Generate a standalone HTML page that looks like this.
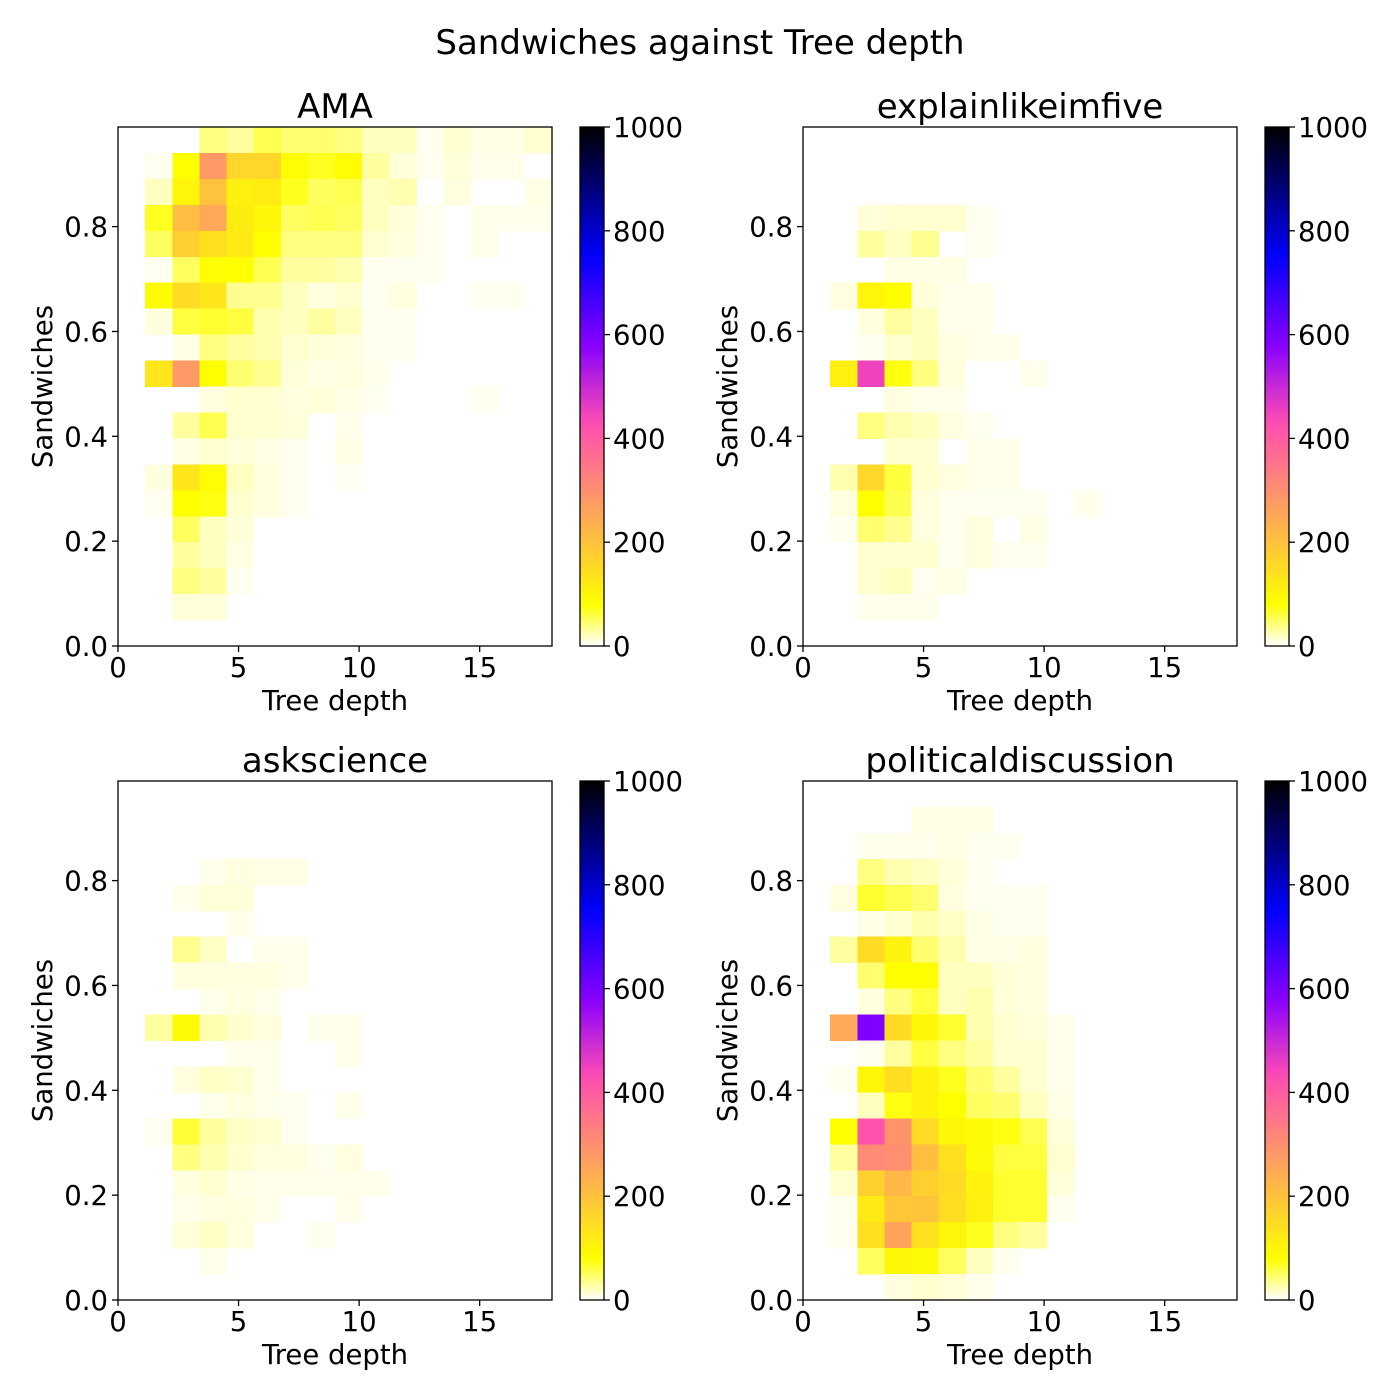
<!DOCTYPE html>
<html><head><meta charset="utf-8"><style>
body{margin:0;background:#fff}
svg{display:block;font-family:"DejaVu Sans","Liberation Sans",sans-serif}
</style></head><body>
<svg id="fig" width="1400" height="1400" viewBox="0 0 1400 1400">
<rect width="1400" height="1400" fill="#fff"/>
<defs id="defs"></defs>
<text x="700" y="54" font-size="34" text-anchor="middle">Sandwiches against Tree depth</text>
</svg>
<script>
const xBinCount = 16, yBinCount = 20;
const xMax = 18, yMax = 0.99;
const vMax = 1000;
const xTicks = [0, 5, 10, 15];
const yTicks = [0.0, 0.2, 0.4, 0.6, 0.8];
const yTickLabels = ["0.0", "0.2", "0.4", "0.6", "0.8"];
const cbTicks = [0, 200, 400, 600, 800, 1000];
const panelTitles = ["AMA", "explainlikeimfive", "askscience", "politicaldiscussion"];

const amaCounts = [
[0,0,0,40,30,55,45,45,40,20,20,5,15,8,8,15],
[0,5,80,280,160,160,85,70,85,30,12,5,12,6,6,0],
[0,20,100,200,110,115,70,50,55,20,25,0,10,0,0,8],
[0,70,210,250,115,95,50,55,50,20,12,5,0,6,6,6],
[0,50,175,140,120,80,40,40,40,15,10,5,0,6,0,0],
[0,5,50,85,80,55,30,30,25,5,5,5,0,0,0,0],
[0,90,150,130,35,35,20,10,15,5,10,0,0,5,5,0],
[0,10,60,65,60,25,20,30,20,5,5,0,0,0,0,0],
[0,0,8,40,30,25,15,12,10,5,5,0,0,0,0,0],
[0,130,280,82,45,35,12,8,10,6,0,0,0,0,0,0],
[0,0,0,10,15,15,10,12,8,5,0,0,0,5,0,0],
[0,0,30,55,15,15,12,0,6,0,0,0,0,0,0,0],
[0,0,8,15,12,8,5,0,8,0,0,0,0,0,0,0],
[0,10,130,85,20,10,5,0,4,0,0,0,0,0,0,0],
[0,5,80,75,15,10,5,0,0,0,0,0,0,0,0,0],
[0,0,50,20,12,0,0,0,0,0,0,0,0,0,0,0],
[0,0,30,20,8,0,0,0,0,0,0,0,0,0,0,0],
[0,0,40,30,5,0,0,0,0,0,0,0,0,0,0,0],
[0,0,12,12,0,0,0,0,0,0,0,0,0,0,0,0],
[0,0,0,0,0,0,0,0,0,0,0,0,0,0,0,0]];

const eli5Counts = [
[0,0,0,0,0,0,0,0,0,0,0,0,0,0,0,0],
[0,0,0,0,0,0,0,0,0,0,0,0,0,0,0,0],
[0,0,0,0,0,0,0,0,0,0,0,0,0,0,0,0],
[0,0,12,15,15,15,5,0,0,0,0,0,0,0,0,0],
[0,0,30,20,35,0,5,0,0,0,0,0,0,0,0,0],
[0,0,0,8,8,8,0,0,0,0,0,0,0,0,0,0],
[0,10,100,82,12,6,6,0,0,0,0,0,0,0,0,0],
[0,0,10,30,20,6,6,0,0,0,0,0,0,0,0,0],
[0,0,5,15,20,10,6,6,0,0,0,0,0,0,0,0],
[0,110,450,75,40,10,0,0,6,0,0,0,0,0,0,0],
[0,0,0,10,6,6,0,0,0,0,0,0,0,0,0,0],
[0,0,40,25,20,10,5,0,0,0,0,0,0,0,0,0],
[0,0,0,15,15,0,6,6,0,0,0,0,0,0,0,0],
[0,25,160,60,15,10,6,6,0,0,0,0,0,0,0,0],
[0,10,82,55,10,5,5,5,5,0,6,0,0,0,0,0],
[0,5,45,35,10,5,10,0,8,0,0,0,0,0,0,0],
[0,0,15,15,15,5,10,5,5,0,0,0,0,0,0,0],
[0,0,15,20,5,8,0,0,0,0,0,0,0,0,0,0],
[0,0,6,6,6,0,0,0,0,0,0,0,0,0,0,0],
[0,0,0,0,0,0,0,0,0,0,0,0,0,0,0,0]];

const askCounts = [
[0,0,0,0,0,0,0,0,0,0,0,0,0,0,0,0],
[0,0,0,0,0,0,0,0,0,0,0,0,0,0,0,0],
[0,0,0,0,0,0,0,0,0,0,0,0,0,0,0,0],
[0,0,0,6,10,8,8,0,0,0,0,0,0,0,0,0],
[0,0,6,12,12,0,0,0,0,0,0,0,0,0,0,0],
[0,0,0,0,6,0,0,0,0,0,0,0,0,0,0,0],
[0,0,35,18,0,6,6,0,0,0,0,0,0,0,0,0],
[0,0,10,10,10,10,6,0,0,0,0,0,0,0,0,0],
[0,0,0,6,10,6,0,0,0,0,0,0,0,0,0,0],
[0,30,90,25,15,10,0,6,6,0,0,0,0,0,0,0],
[0,0,0,0,6,6,0,0,6,0,0,0,0,0,0,0],
[0,0,10,18,15,6,0,0,0,0,0,0,0,0,0,0],
[0,0,0,6,10,6,5,0,6,0,0,0,0,0,0,0],
[0,5,62,30,18,15,5,0,0,0,0,0,0,0,0,0],
[0,0,40,25,15,10,10,5,10,0,0,0,0,0,0,0],
[0,0,10,15,8,6,6,6,6,6,0,0,0,0,0,0],
[0,0,6,10,10,6,0,0,6,0,0,0,0,0,0,0],
[0,0,12,18,10,0,0,5,0,0,0,0,0,0,0,0],
[0,0,0,6,0,0,0,0,0,0,0,0,0,0,0,0],
[0,0,0,0,0,0,0,0,0,0,0,0,0,0,0,0]];

const polCounts = [
[0,0,0,0,0,0,0,0,0,0,0,0,0,0,0,0],
[0,0,0,0,8,8,8,0,0,0,0,0,0,0,0,0],
[0,0,6,6,6,8,5,5,0,0,0,0,0,0,0,0],
[0,0,40,25,20,12,5,0,0,0,0,0,0,0,0,0],
[0,10,65,55,45,10,5,5,5,0,0,0,0,0,0,0],
[0,0,8,15,25,18,8,5,5,0,0,0,0,0,0,0],
[0,30,150,105,45,25,8,8,10,0,0,0,0,0,0,0],
[0,0,45,80,82,20,20,12,10,0,0,0,0,0,0,0],
[0,0,10,40,60,20,25,12,10,0,0,0,0,0,0,0],
[0,250,590,150,95,65,25,15,12,6,0,0,0,0,0,0],
[0,0,5,30,60,40,30,15,15,6,0,0,0,0,0,0],
[0,5,95,145,105,70,45,30,15,6,0,0,0,0,0,0],
[0,0,20,75,105,82,50,45,20,8,0,0,0,0,0,0],
[0,80,420,290,150,95,90,75,55,12,0,0,0,0,0,0],
[0,30,310,300,210,140,90,60,60,15,0,0,0,0,0,0],
[0,15,170,220,175,150,105,65,65,12,0,0,0,0,0,0],
[0,5,120,190,195,145,110,65,65,5,0,0,0,0,0,0],
[0,5,140,260,140,100,70,40,30,0,0,0,0,0,0,0],
[0,0,50,95,90,50,20,5,0,0,0,0,0,0,0,0],
[0,0,0,10,15,12,6,0,0,0,0,0,0,0,0,0]];

const allCounts = [amaCounts, eli5Counts, askCounts, polCounts];

const NS = "http://www.w3.org/2000/svg";
const svg = document.getElementById("fig");
const defs = document.getElementById("defs");
function mk(tag, attrs, parent) {
  const e = document.createElementNS(NS, tag);
  for (const k in attrs) e.setAttribute(k, attrs[k]);
  (parent || svg).appendChild(e);
  return e;
}
function clip(v){return Math.max(0, Math.min(1, v));}
function cmap(v) {
  const t = 1 - clip(v / vMax);
  const r = clip(t / 0.32 - 0.78125);
  const g = clip(2 * t - 0.84);
  let b;
  if (t < 0.25) b = 4 * t; else if (t < 0.42) b = 1; else if (t < 0.92) b = -2 * t + 1.84; else b = t / 0.08 - 11.5;
  b = clip(b);
  return "rgb(" + Math.round(r * 255) + "," + Math.round(g * 255) + "," + Math.round(b * 255) + ")";
}

const grad = mk("linearGradient", {id: "cbgrad", x1: "0", y1: "1", x2: "0", y2: "0"}, defs);
for (let i = 0; i <= 50; i++) {
  mk("stop", {offset: (i / 50), "stop-color": cmap(i / 50 * vMax)}, grad);
}

const panels = [
  {ax: 118, ay: 127},
  {ax: 803, ay: 127},
  {ax: 118, ay: 781},
  {ax: 803, ay: 781}
];
const AW = 434, AH = 519;
const FS = 27.5;

panels.forEach((p, pi) => {
  const g = mk("g", {});
  
  
  const xs = v => p.ax + v / xMax * AW;
  const ys = v => p.ay + AH - v / yMax * AH;
  const counts = allCounts[pi];
  const cg = mk("g", {"shape-rendering": "crispEdges"}, g);
  
  
  const dx = xMax / xBinCount, dy = yMax / yBinCount;
  counts.forEach((row, r) => {
    const bin = yBinCount - 1 - r;
    row.forEach((v, c) => {
      if (!v) return;
      const x0 = xs(c * dx), x1 = xs((c + 1) * dx);
      const y0 = ys((bin + 1) * dy), y1 = ys(bin * dy);
      const cell = mk("rect", {x: x0, y: y0, width: x1 - x0 + 0.5, height: y1 - y0 + 0.5, fill: cmap(v)}, cg);
      
      
    });
  });
  const frame = mk("rect", {x: p.ax, y: p.ay, width: AW, height: AH, fill: "none", stroke: "#000", "stroke-width": 1.3}, g);
  
  
  const tt = mk("text", {x: p.ax + AW / 2, y: p.ay - 9, "font-size": 34, "text-anchor": "middle"}, g);
  tt.textContent = panelTitles[pi];
  
  
  xTicks.forEach(v => {
    const x = xs(v);
    mk("line", {x1: x, x2: x, y1: p.ay + AH, y2: p.ay + AH + 6, stroke: "#000", "stroke-width": 1.3}, g);
    const t = mk("text", {x: x, y: p.ay + AH + 31, "font-size": FS, "text-anchor": "middle"}, g);
    t.textContent = String(v);
    
    
  });
  const xl = mk("text", {x: p.ax + AW / 2, y: p.ay + AH + 64, "font-size": FS, "text-anchor": "middle"}, g);
  xl.textContent = "Tree depth";
  
  
  yTicks.forEach((v, i) => {
    const y = ys(v);
    mk("line", {x1: p.ax - 6, x2: p.ax, y1: y, y2: y, stroke: "#000", "stroke-width": 1.3}, g);
    const t = mk("text", {x: p.ax - 10, y: y + 10, "font-size": FS, "text-anchor": "end"}, g);
    t.textContent = yTickLabels[i];
    
    
  });
  const ylx = p.ax - 66, yly = p.ay + AH / 2;
  const yl = mk("text", {x: ylx, y: yly, "font-size": FS, "text-anchor": "middle", transform: "rotate(-90 " + ylx + " " + yly + ")"}, g);
  yl.textContent = "Sandwiches";
  
  
  const cbx = p.ax + 462, cbw = 24;
  const cb = mk("rect", {x: cbx, y: p.ay, width: cbw, height: AH, fill: "url(#cbgrad)", stroke: "#000", "stroke-width": 1.3}, g);
  
  
  cbTicks.forEach(v => {
    const y = p.ay + AH - v / vMax * AH;
    mk("line", {x1: cbx + cbw, x2: cbx + cbw + 6, y1: y, y2: y, stroke: "#000", "stroke-width": 1.3}, g);
    const t = mk("text", {x: cbx + cbw + 9, y: y + 10, "font-size": FS}, g);
    t.textContent = String(v);
    
    
  });
});
</script>
</body></html>
